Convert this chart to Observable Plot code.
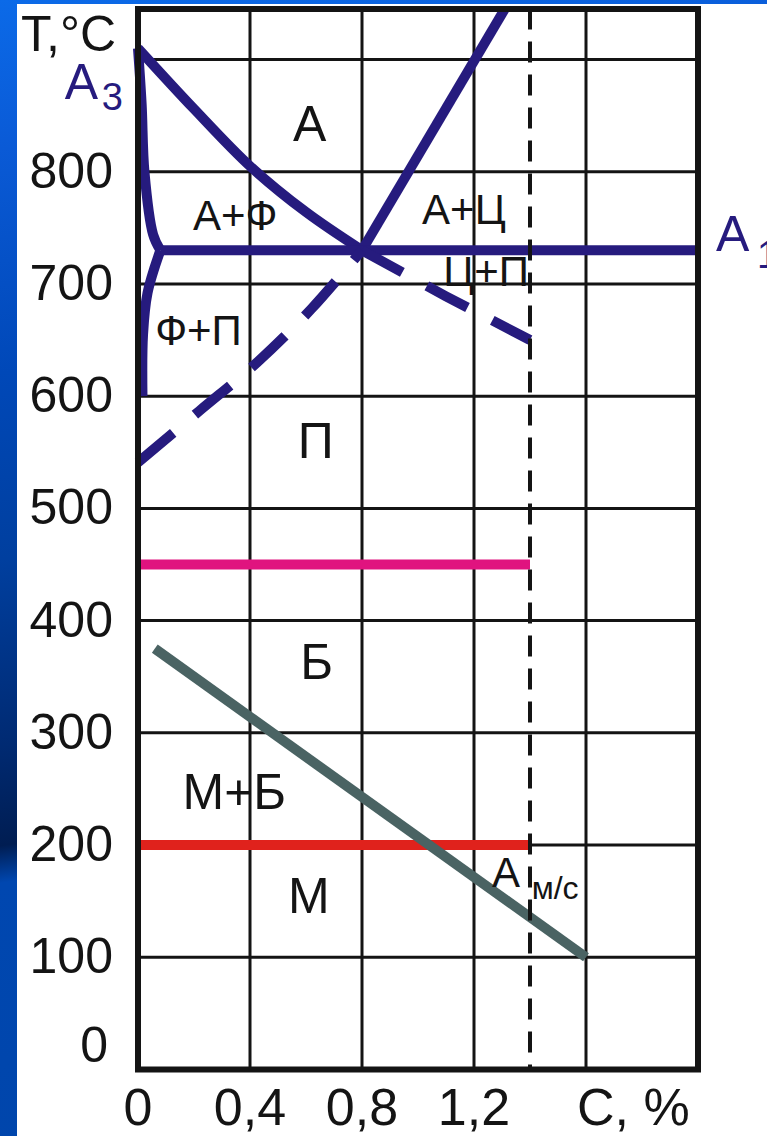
<!DOCTYPE html>
<html>
<head>
<meta charset="utf-8">
<script src="https://cdn.jsdelivr.net/npm/d3@7"></script>
<script src="https://cdn.jsdelivr.net/npm/@observablehq/plot@0.6"></script>
<style>
  html, body { margin: 0; padding: 0; width: 767px; height: 1136px; overflow: hidden; }
  body {
    background: linear-gradient(172deg, #0b6ae8 0%, #0a5ad6 12%, #0048b8 30%, #003f9f 45%,
      #002a72 60%, #001d52 68%, #0047b0 71%, #0045aa 100%);
  }
  #chart { position: absolute; left: 17px; top: 4px; width: 750px; height: 1132px; background: #fff; overflow: hidden; }
</style>
</head>
<body>
<div id="chart"></div>
<script>
const FONT = "'Liberation Sans', Arial, Helvetica, sans-serif";
const INK = "#141414";
const BLUE = "#261b7e";

// Axis ticks
const cTicks = [0, 0.4, 0.8, 1.2];
const tTicks = [100, 200, 300, 400, 500, 600, 700, 800];
const cGrid = [0.4, 0.8, 1.2, 1.6];
const tGrid = [100, 200, 300, 400, 500, 600, 700, 800, 900];

// Phase boundaries: carbon content c (%), temperature t (°C)
const lineGS = [{c: 0, t: 910}, {c: 0.2, t: 856}, {c: 0.4, t: 805}, {c: 0.6, t: 764}, {c: 0.8, t: 730}];
const lineGSext = [{c: 0.8, t: 730}, {c: 1.1, t: 689}, {c: 1.4, t: 650}];
const lineGP = [{c: 0, t: 910}, {c: 0.013, t: 860}, {c: 0.023, t: 800}, {c: 0.054, t: 744}, {c: 0.08, t: 730}];
const linePQ = [{c: 0.08, t: 730}, {c: 0.034, t: 692}, {c: 0.018, t: 655}, {c: 0.016, t: 600}];
const lineFP = [{c: 0, t: 541}, {c: 0.22, t: 587}, {c: 0.425, t: 630}, {c: 0.62, t: 678}, {c: 0.8, t: 730}];
const lineSE = [{c: 0.8, t: 730}, {c: 1.31, t: 945}];
const lineA1 = [{c: 0.08, t: 730}, {c: 2.0, t: 730}];
const lineBainite = [{c: 0, t: 450}, {c: 1.4, t: 450}];
const lineMartensite = [{c: 0, t: 200}, {c: 1.4, t: 200}];
const lineMs = [{c: 0.06, t: 375}, {c: 1.6, t: 100}];
const limitC = [1.4];

// Region names
const regionsLarge = [
  {label: "А", c: 0.613, t: 842},
  {label: "П", c: 0.635, t: 559},
  {label: "Б", c: 0.638, t: 362},
  {label: "М+Б", c: 0.344, t: 246},
  {label: "М", c: 0.61, t: 154}
];
const regionsSmall = [
  {label: "А+Ф", c: 0.347, t: 760},
  {label: "А+Ц", c: 1.164, t: 765},
  {label: "Ц+П", c: 1.243, t: 710},
  {label: "Ф+П", c: 0.216, t: 658}
];
const labelMs = [{label: "А", c: 1.264, t: 175}];
const subscriptMs = [{label: "м/с", c: 1.406, t: 161}];
const critA3 = [{label: "А", c: 0, t: 879}];
const critA3sub = [{label: "3", c: 0, t: 866}];
const critA1 = [{label: "А", c: 2.0, t: 744}];
const critA1sub = [{label: "1", c: 2.0, t: 725}];
const axisTitleT = [{label: "T,°C", c: 0, t: 922}];
const axisTitleC = [{label: "C, %", c: 1.6, t: 0}];
const zeroT = [{label: "0", c: 0, t: 0}];

const lineStyle = (stroke, extra = {}) => ({
  x: "c", y: "t", stroke, strokeWidth: 10, strokeLinecap: "butt", strokeLinejoin: "round", ...extra
});
const fmtC = d => String(d).replace(".", ",");

const chart = Plot.plot({
  width: 750,
  height: 1132,
  marginLeft: 120.5,
  marginRight: 69.5,
  marginTop: 4.5,
  marginBottom: 67,
  x: {domain: [0, 2.0]},
  y: {domain: [0, 945]},
  style: {fontFamily: FONT, color: INK, background: "transparent", overflow: "visible"},
  marks: [
    Plot.gridX(cGrid, {stroke: INK, strokeOpacity: 1, strokeWidth: 3}),
    Plot.gridY(tGrid, {stroke: INK, strokeOpacity: 1, strokeWidth: 3}),

    Plot.line(lineBainite, lineStyle("#e0137f")),
    Plot.line(lineMartensite, lineStyle("#e0221c")),
    Plot.line(lineMs, lineStyle("#4a6363")),

    Plot.line(lineGS, lineStyle(BLUE, {curve: "catmull-rom"})),
    Plot.line(lineGP, lineStyle(BLUE, {curve: "catmull-rom"})),
    Plot.line(linePQ, lineStyle(BLUE, {curve: "catmull-rom"})),
    Plot.line(lineSE, lineStyle(BLUE)),
    Plot.line(lineA1, lineStyle(BLUE)),
    Plot.line(lineGSext, lineStyle(BLUE, {strokeDasharray: "46,28"})),
    Plot.line(lineFP, lineStyle(BLUE, {curve: "catmull-rom", strokeDasharray: "46,28"})),

    Plot.ruleX(limitC, {stroke: INK, strokeWidth: 4, strokeDasharray: "21,12"}),
    Plot.frame({stroke: INK, strokeWidth: 6}),

    Plot.axisY(tTicks, {tickSize: 0, tickPadding: 25, fontSize: 50, label: null, tickFormat: d => String(d)}),
    Plot.text(zeroT, {x: "c", y: "t", text: "label", textAnchor: "end", dx: -30, dy: -24, fontSize: 50, fill: INK}),
    Plot.axisX(cTicks, {tickSize: 0, tickPadding: 19, fontSize: 52, label: null, tickFormat: fmtC}),
    Plot.text(axisTitleC, {x: "c", y: "t", text: "label", textAnchor: "start", lineAnchor: "top", dx: -9, dy: 19, fontSize: 52, fill: INK}),
    Plot.text(axisTitleT, {x: "c", y: "t", text: "label", textAnchor: "end", dx: -22, fontSize: 50, fill: INK}),

    Plot.text(regionsLarge, {x: "c", y: "t", text: "label", fontSize: 50, fill: INK}),
    Plot.text(regionsSmall, {x: "c", y: "t", text: "label", fontSize: 42, fill: INK}),
    Plot.text(labelMs, {x: "c", y: "t", text: "label", textAnchor: "start", fontSize: 42, fill: INK}),
    Plot.text(subscriptMs, {x: "c", y: "t", text: "label", textAnchor: "start", fontSize: 32, fill: INK}),

    Plot.text(critA3, {x: "c", y: "t", text: "label", textAnchor: "end", dx: -40, fontSize: 50, fill: BLUE}),
    Plot.text(critA3sub, {x: "c", y: "t", text: "label", textAnchor: "end", dx: -15, fontSize: 38, fill: BLUE}),
    Plot.text(critA1, {x: "c", y: "t", text: "label", textAnchor: "start", dx: 18, fontSize: 50, fill: BLUE}),
    Plot.text(critA1sub, {x: "c", y: "t", text: "label", textAnchor: "start", dx: 59, fontSize: 38, fill: BLUE})
  ]
});

document.getElementById("chart").appendChild(chart);
</script>
</body>
</html>
